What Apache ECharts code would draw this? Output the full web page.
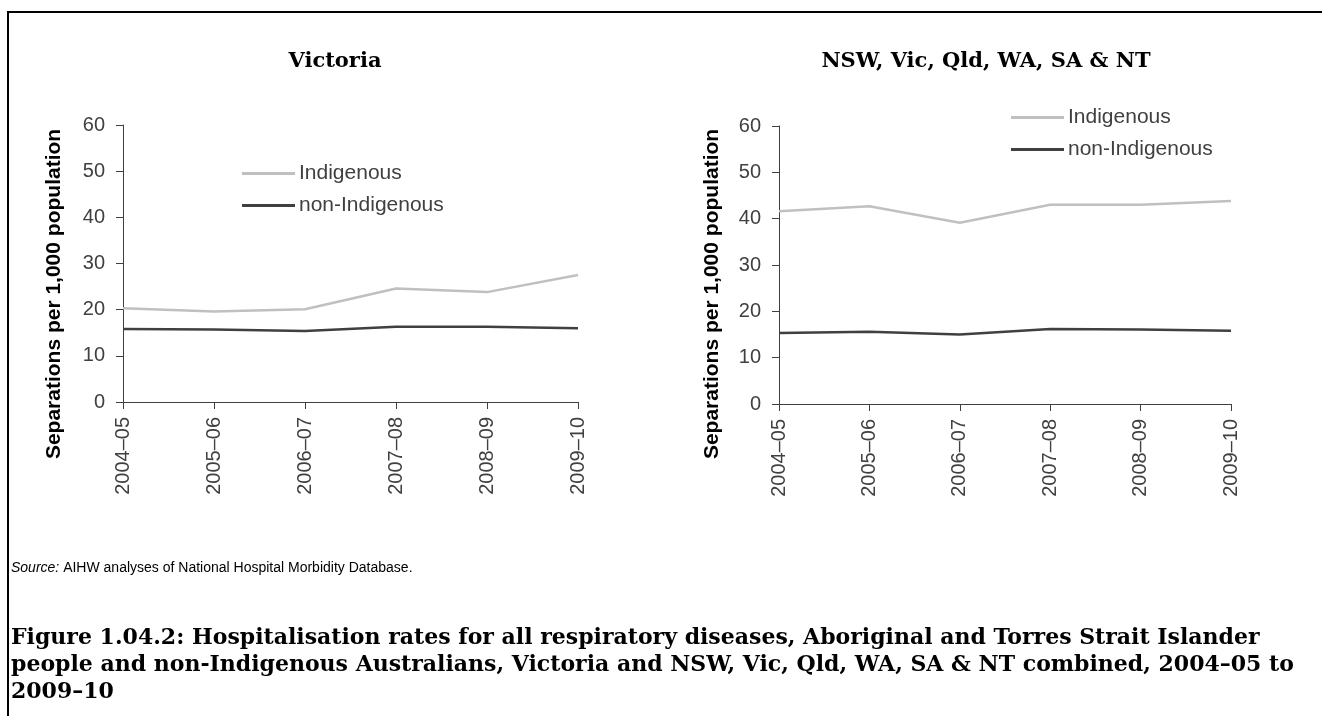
<!DOCTYPE html>
<html>
<head>
<meta charset="utf-8">
<script src="https://cdn.jsdelivr.net/npm/echarts@6/dist/echarts.min.js"></script>
<style>
  html, body { margin: 0; padding: 0; background: #fff; }
  #chart { width: 1322px; height: 716px; }
</style>
</head>
<body>
<div id="chart"></div>
<script>
// categories and values
var years = ['2004–05', '2005–06', '2006–07', '2007–08', '2008–09', '2009–10']
var vicIndigenous = [20.3, 19.6, 20.1, 24.6, 23.8, 27.5]
var vicNonIndigenous = [15.8, 15.7, 15.4, 16.3, 16.3, 16.0]
var allIndigenous = [41.6, 42.7, 39.1, 43.0, 43.0, 43.8]
var allNonIndigenous = [15.3, 15.6, 15.0, 16.2, 16.1, 15.8]
var yTicks = [0, 10, 20, 30, 40, 50, 60]

var sans = '"Liberation Sans", Arial, sans-serif'
var serif = '"DejaVu Serif", serif'
var axisColor = '#404040'
var lightGrey = '#c0c0c0'
var darkGrey = '#404040'

var myChart = echarts.init(document.getElementById('chart'), null, {renderer: 'canvas'})

function xAxisFor(gridIndex) {
  return {
    type: 'category',
    gridIndex: gridIndex,
    boundaryGap: false,
    data: years,
    axisLine: {lineStyle: {color: axisColor, width: 1}},
    axisTick: {show: true, length: 7, lineStyle: {color: axisColor}},
    axisLabel: {rotate: 90, margin: 15, color: '#404040', fontSize: 20, fontFamily: sans}
  }
}

function yAxisFor(gridIndex) {
  return {
    type: 'value',
    gridIndex: gridIndex,
    min: yTicks[0],
    max: yTicks[yTicks.length - 1],
    interval: 10,
    splitLine: {show: false},
    axisLine: {show: true, lineStyle: {color: axisColor, width: 1}},
    axisTick: {show: true, length: 7, lineStyle: {color: axisColor}},
    axisLabel: {margin: 18, color: '#404040', fontSize: 20, fontFamily: sans}
  }
}

function lineSeries(name, data, color, idx) {
  return {
    name: name,
    type: 'line',
    xAxisIndex: idx,
    yAxisIndex: idx,
    data: data,
    symbol: 'none',
    smooth: false,
    lineStyle: {color: color, width: 2.5},
    itemStyle: {color: color},
    emphasis: {disabled: true}
  }
}

function legendAt(left, top) {
  return {
    orient: 'vertical',
    left: left,
    top: top,
    padding: 0,
    icon: 'rect',
    itemWidth: 53,
    itemHeight: 3,
    itemGap: 11,
    data: ['Indigenous', 'non-Indigenous'],
    textStyle: {color: '#404040', fontSize: 21, fontFamily: sans, lineHeight: 20, padding: [0, 0, 0, -1]},
    selectedMode: false
  }
}

function yTitle(x, y) {
  return {
    type: 'text',
    x: x,
    y: y,
    rotation: Math.PI / 2,
    style: {
      text: 'Separations per 1,000 population',
      font: 'bold 21px ' + sans,
      fill: '#000',
      align: 'center',
      verticalAlign: 'middle'
    }
  }
}

var option = {
  animation: false,
  backgroundColor: '#fff',
  grid: [
    {left: 123, right: 744, top: 125, bottom: 314},
    {left: 779, right: 91, top: 126, bottom: 312}
  ],
  xAxis: [xAxisFor(0), xAxisFor(1)],
  yAxis: [yAxisFor(0), yAxisFor(1)],
  legend: [legendAt(242, 163), legendAt(1011, 107)],
  series: [
    lineSeries('Indigenous', vicIndigenous, lightGrey, 0),
    lineSeries('non-Indigenous', vicNonIndigenous, darkGrey, 0),
    lineSeries('Indigenous', allIndigenous, lightGrey, 1),
    lineSeries('non-Indigenous', allNonIndigenous, darkGrey, 1)
  ],
  graphic: [
    // frame: top and left rules
    {type: 'rect', shape: {x: 7, y: 11, width: 1315, height: 2}, style: {fill: '#000'}},
    {type: 'rect', shape: {x: 7, y: 11, width: 2, height: 705}, style: {fill: '#000'}},
    {type: 'text', x: 335, y: 62, style: {text: 'Victoria', font: 'bold 21px ' + serif, fill: '#000', align: 'center', verticalAlign: 'middle'}},
    {type: 'text', x: 986, y: 62, style: {text: 'NSW, Vic, Qld, WA, SA & NT', font: 'bold 21px ' + serif, fill: '#000', align: 'center', verticalAlign: 'middle'}},
    yTitle(54, 294),
    yTitle(712, 294),
    {
      type: 'text', x: 11, y: 568,
      style: {
        text: '{i|Source:} AIHW analyses of National Hospital Morbidity Database.',
        font: '14px ' + sans, fill: '#000', verticalAlign: 'middle',
        rich: {i: {fontStyle: 'italic', fontSize: 14, fontFamily: sans}}
      }
    },
    {type: 'text', x: 11, y: 638, style: {text: 'Figure 1.04.2: Hospitalisation rates for all respiratory diseases, Aboriginal and Torres Strait Islander', font: 'bold 22px ' + serif, fill: '#000', verticalAlign: 'middle'}},
    {type: 'text', x: 11, y: 665, style: {text: 'people and non-Indigenous Australians, Victoria and NSW, Vic, Qld, WA, SA & NT combined, 2004–05 to', font: 'bold 22px ' + serif, fill: '#000', verticalAlign: 'middle'}},
    {type: 'text', x: 11, y: 692, style: {text: '2009–10', font: 'bold 22px ' + serif, fill: '#000', verticalAlign: 'middle'}}
  ]
}

myChart.setOption(option)
</script>
</body>
</html>
